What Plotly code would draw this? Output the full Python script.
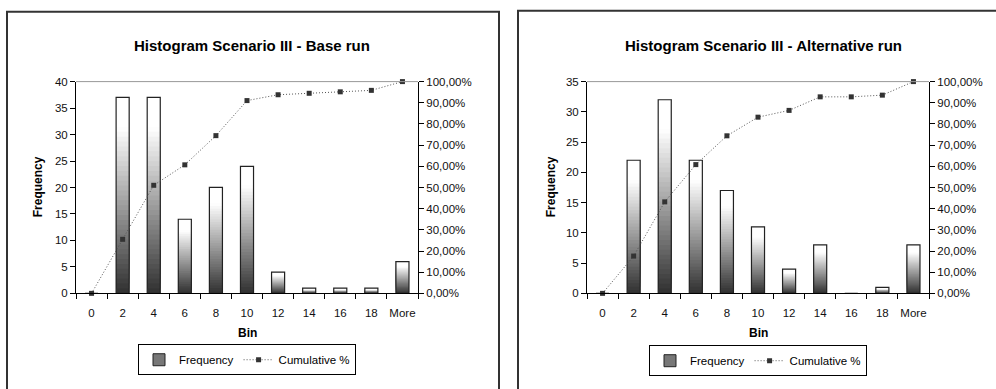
import plotly.graph_objects as go

W, H = 996, 389

bins = ["0", "2", "4", "6", "8", "10", "12", "14", "16", "18", "More"]
freq_base = [0, 37, 37, 14, 20, 24, 4, 1, 1, 1, 6]
cum_base = [0.0, 25.52, 51.03, 60.69, 74.48, 91.03, 93.79, 94.48, 95.17, 95.86, 100.0]
freq_alt = [0, 22, 32, 22, 17, 11, 4, 8, 0, 1, 8]
cum_alt = [0.0, 17.6, 43.2, 60.8, 74.4, 83.2, 86.4, 92.8, 92.8, 93.6, 100.0]
title_base = "Histogram Scenario III - Base run"
title_alt = "Histogram Scenario III - Alternative run"
pct_ticks = [0, 0.1, 0.2, 0.3, 0.4, 0.5, 0.6, 0.7, 0.8, 0.9, 1.0]

FONT = "Liberation Sans, Arial, sans-serif"
NSEG = 40


def px_x(p):
    return p / W


def px_y(p):
    return 1 - p / H


fig = go.Figure()


def add_chart(freq, cum, xa, ya, ya2, legend):
    # gradient: overlapping bands, each reaching to the bar top, painted bottom-up
    for k in range(NSEG):
        t = k / NSEG
        g = int(min(255, 48 + 245 * (t + 0.5 / NSEG)))
        col = f"rgb({g},{g},{g})"
        fig.add_trace(go.Bar(
            x=bins, y=[v * (1 - t) for v in freq], base=[v * t for v in freq],
            marker=dict(color=col, line=dict(width=0)), width=0.42,
            xaxis=xa, yaxis=ya, showlegend=False, hoverinfo="skip"))
    # outline
    fig.add_trace(go.Bar(
        x=bins, y=freq, base=[0] * len(freq),
        marker=dict(color="rgba(0,0,0,0)", line=dict(width=1.2, color="#222")),
        width=0.42, xaxis=xa, yaxis=ya, showlegend=False))
    # legend-only proxy for the bar series
    fig.add_trace(go.Bar(
        x=[None], y=[None], name="Frequency",
        marker=dict(color="#777", line=dict(width=1, color="#222")),
        xaxis=xa, yaxis=ya, legend=legend))
    fig.add_trace(go.Scatter(
        x=bins, y=[c / 100 for c in cum], name="Cumulative %", mode="lines+markers",
        line=dict(color="#555", width=1, dash="1px,2px"),
        marker=dict(symbol="square", size=5, color="#333"),
        cliponaxis=False,
        xaxis=xa, yaxis=ya2, legend=legend))


add_chart(freq_base, cum_base, "x", "y", "y2", "legend")
add_chart(freq_alt, cum_alt, "x2", "y3", "y4", "legend2")

ydom = [px_y(296.5), px_y(78)]
dom1 = [px_x(76), px_x(418)]
dom2 = [px_x(587), px_x(929)]

tickfont = dict(family=FONT, size=11.5, color="#111")
xcommon = dict(type="category", showline=True, linecolor="#000", linewidth=1,
               ticks="outside", ticklen=5, tickcolor="#000", tickson="boundaries",
               tickfont=tickfont, showgrid=False, zeroline=False, tickangle=0,
               range=[-0.5, 10.5], ticklabelstandoff=9)
ycommon = dict(showline=True, linecolor="#000", linewidth=1, ticks="outside",
               ticklen=5, tickcolor="#000", tickfont=tickfont, showgrid=False,
               zeroline=False)

fig.update_layout(
    width=W, height=H, margin=dict(l=0, r=0, t=0, b=0),
    paper_bgcolor="white", plot_bgcolor="white",
    barmode="overlay", separators=", ",
    font=dict(family=FONT, size=11, color="#000"),
    xaxis=dict(domain=dom1, anchor="y", **xcommon),
    xaxis2=dict(domain=dom2, anchor="y3", **xcommon),
    yaxis=dict(domain=ydom, anchor="x", range=[0, 40], dtick=5, **ycommon),
    yaxis2=dict(domain=ydom, anchor="x", overlaying="y", side="right",
                range=[0, 1], tickvals=pct_ticks, tickformat=".2%", **ycommon),
    yaxis3=dict(domain=ydom, anchor="x2", range=[0, 35], dtick=5, **ycommon),
    yaxis4=dict(domain=ydom, anchor="x2", overlaying="y3", side="right",
                range=[0, 1], tickvals=pct_ticks, tickformat=".2%", **ycommon),
    legend=dict(orientation="h", x=px_x(247), y=px_y(365), xanchor="center",
                yanchor="middle", bordercolor="#000", borderwidth=1,
                font=dict(family=FONT, size=11.5), bgcolor="white",
                itemwidth=30, tracegroupgap=0),
    legend2=dict(orientation="h", x=px_x(758), y=px_y(366), xanchor="center",
                 yanchor="middle", bordercolor="#000", borderwidth=1,
                 font=dict(family=FONT, size=11.5), bgcolor="white",
                 itemwidth=30, tracegroupgap=0),
)

shapes = [
    # chart frames
    dict(type="rect", xref="paper", yref="paper", x0=px_x(7), x1=px_x(499),
         y0=px_y(400), y1=px_y(6), line=dict(color="#333", width=2)),
    dict(type="rect", xref="paper", yref="paper", x0=px_x(518), x1=px_x(1010),
         y0=px_y(400), y1=px_y(5), line=dict(color="#333", width=2)),
    # top border line of plot areas
    dict(type="line", xref="x domain", yref="y domain", x0=0, x1=1, y0=1, y1=1,
         line=dict(color="#999", width=1)),
    dict(type="line", xref="x2 domain", yref="y3 domain", x0=0, x1=1, y0=1, y1=1,
         line=dict(color="#999", width=1)),
]
fig.update_layout(shapes=shapes)

bold = dict(family=FONT, size=12, color="#000")


def ann(text, x, y, font, angle=0):
    return dict(text=text, x=px_x(x), y=px_y(y), xref="paper", yref="paper",
                xanchor="center", yanchor="middle", showarrow=False,
                textangle=angle, font=font)


title_font = dict(family=FONT, size=15, color="#000")
annotations = [
    ann("<b>" + title_base + "</b>", 252, 41, title_font),
    ann("<b>" + title_alt + "</b>", 763, 41, title_font),
    ann("<b>Frequency</b>", 38, 187, bold, -90),
    ann("<b>Frequency</b>", 551, 187, bold, -90),
    ann("<b>Bin</b>", 247, 337, bold),
    ann("<b>Bin</b>", 758, 337, bold),
]
fig.update_layout(annotations=annotations)

fig.write_html("out.html")
